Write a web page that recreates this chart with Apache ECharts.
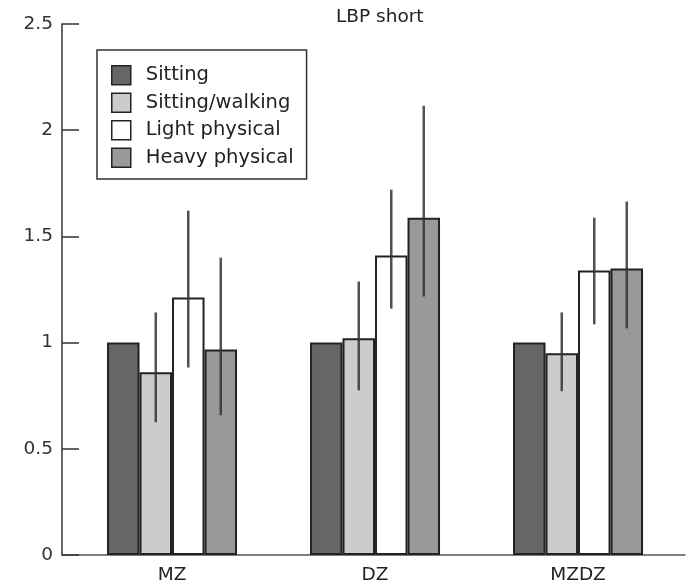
<!DOCTYPE html>
<html>
<head>
<meta charset="utf-8">
<script src="https://cdn.jsdelivr.net/npm/echarts@6/dist/echarts.min.js"></script>
<style>
  html, body { margin: 0; padding: 0; background: #fff; }
  #chart { width: 686px; height: 585px; }
</style>
</head>
<body>
<div id="chart"></div>
<script>
// groups on x
const groups = ['MZ', 'DZ', 'MZDZ'];
const groupPos = [1, 2, 3];
const names = ['Sitting', 'Sitting/walking', 'Light physical', 'Heavy physical'];
const colors = ['#666666', '#cccccc', '#ffffff', '#999999'];

// bar heights per activity level
const sitting = [1.0, 1.0, 1.0];
const sittingWalking = [0.86, 1.02, 0.95];
const lightPhysical = [1.212, 1.41, 1.339];
const heavyPhysical = [0.968, 1.588, 1.349];

// error bars (low / high), Sitting has none
const swLow = [0.625, 0.775, 0.771];
const swHigh = [1.142, 1.288, 1.142];
const lightLow = [0.883, 1.16, 1.086];
const lightHigh = [1.621, 1.72, 1.588];
const heavyLow = [0.658, 1.217, 1.067];
const heavyHigh = [1.40, 2.115, 1.664];

const barW = 32.5;
const fontFam = 'DejaVu Sans';

let chart = echarts.init(document.getElementById('chart'));

let values = [sitting, sittingWalking, lightPhysical, heavyPhysical];
let barSeries = values.map(function (vals, i) {
  return {
    name: names[i],
    type: 'bar',
    barWidth: barW,
    barGap: '0%',
    data: vals.map(function (v, j) { return [groupPos[j], v]; }),
    itemStyle: {
      color: colors[i],
      borderColor: '#222',
      borderWidth: 2
    }
  };
});

// error bar data: [x, series index, low, high]
let errData = [];
[[1, swLow, swHigh], [2, lightLow, lightHigh], [3, heavyLow, heavyHigh]].forEach(function (e) {
  for (let j = 0; j < groups.length; j++) {
    errData.push([groupPos[j], e[0], e[1][j], e[2][j]]);
  }
});

let errSeries = {
  type: 'custom',
  z: 10,
  data: errData,
  encode: { x: 0, y: [2, 3] },
  renderItem: function (params, api) {
    let off = (api.value(1) - 1.5) * barW;
    let lo = api.coord([api.value(0), api.value(2)]);
    let hi = api.coord([api.value(0), api.value(3)]);
    return {
      type: 'line',
      shape: { x1: lo[0] + off, y1: lo[1], x2: hi[0] + off, y2: hi[1] },
      style: { stroke: '#333', lineWidth: 2.5, opacity: 0.85 }
    };
  }
};

chart.setOption({
  animation: false,
  title: {
    text: 'LBP short',
    left: 331,
    top: 3,
    textStyle: { fontFamily: fontFam, fontSize: 18.5, fontWeight: 'normal', color: '#222' }
  },
  legend: {
    data: names,
    orient: 'vertical',
    left: 97,
    top: 50,
    itemWidth: 19,
    itemHeight: 19,
    itemGap: 7,
    padding: [15, 13, 11, 14],
    borderColor: '#333',
    borderWidth: 1.5,
    icon: 'rect',
    itemStyle: { borderColor: '#222', borderWidth: 1.5 },
    textStyle: {
      fontFamily: fontFam, fontSize: 19.5, color: '#222',
      lineHeight: 19, padding: [0, 0, 0, 10]
    }
  },
  grid: { left: 62, right: 1, top: 24, bottom: 29 },
  xAxis: {
    type: 'value',
    min: 0.458,
    max: 3.527,
    axisLine: { lineStyle: { color: '#555', width: 1.5 } },
    axisTick: { show: false },
    splitLine: { show: false },
    axisLabel: {
      customValues: groupPos,
      formatter: function (v) { return groups[groupPos.indexOf(v)] || ''; },
      fontFamily: fontFam, fontSize: 18.5, color: '#222', margin: 11
    }
  },
  yAxis: {
    type: 'value',
    min: 0,
    max: 2.5,
    interval: 0.5,
    axisLine: { show: true, lineStyle: { color: '#333', width: 1.5 } },
    axisTick: { show: true, inside: true, length: 17, lineStyle: { color: '#333', width: 1.5 } },
    splitLine: { show: false },
    axisLabel: { fontFamily: fontFam, fontSize: 18.5, color: '#333', margin: 9 }
  },
  series: barSeries.concat([errSeries])
});
</script>
</body>
</html>
